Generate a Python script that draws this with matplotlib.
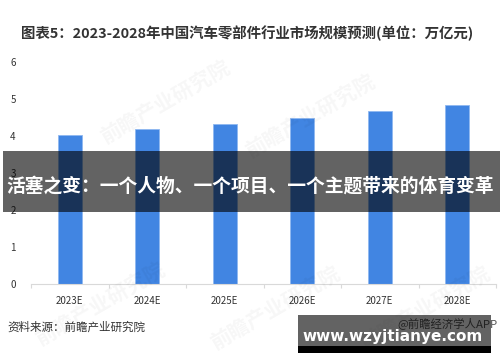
import matplotlib
matplotlib.use("Agg")
import matplotlib.pyplot as plt
from matplotlib.patches import Rectangle

plt.rcParams['font.family'] = ['Noto Sans CJK SC', 'DejaVu Sans']

# 数据
years = ['2023E', '2024E', '2025E', '2026E', '2027E', '2028E']
market_size = [4.02, 4.19, 4.33, 4.50, 4.67, 4.84]
y_ticks = [0, 1, 2, 3, 4, 5, 6]

title = '图表5：2023-2028年中国汽车零部件行业市场规模预测(单位：万亿元)'
source = '资料来源：前瞻产业研究院'
banner = '活塞之变：一个人物、一个项目、一个主题带来的体育变革'

W, H = 500, 362
fig = plt.figure(figsize=(W / 100, H / 100), dpi=100)
ax = fig.add_axes([31 / W, (H - 284) / H, 465 / W, 222 / H])

x = list(range(len(years)))
ax.bar(x, market_size, width=0.31, color='#4185e2', edgecolor='#8fb8f0', linewidth=0.6, zorder=2)

ax.set_xlim(-0.5, len(years) - 0.5)
ax.set_ylim(0, 6)
ax.set_yticks(y_ticks)
ax.set_xticks(x)
ax.set_xticklabels(years)
ax.set_xticks([i + 0.5 for i in range(-1, len(years))], minor=True)
ax.tick_params(axis='x', which='major', length=0, pad=9, labelsize=7, colors='#333333')
ax.tick_params(axis='x', which='minor', length=3, color='#d9d9d9', width=0.8)
ax.tick_params(axis='y', length=0, pad=11, labelsize=7, colors='#333333')
for s in ['top', 'right', 'left']:
    ax.spines[s].set_visible(False)
ax.spines['bottom'].set_color('#d9d9d9')
ax.spines['bottom'].set_linewidth(0.8)

# 水印
for wx, wy in [(0.33, 0.72), (0.62, 0.68), (0.2, 0.16), (0.55, 0.15), (0.85, 0.15)]:
    fig.text(wx, wy, '前瞻产业研究院', fontsize=15, fontweight='bold', color='#000000',
             alpha=0.035, rotation=30, ha='center', va='center')

fig.text(21 / W, 1 - 33 / H, title, fontsize=10.4, fontweight='bold', color='#333333',
         ha='left', va='center')
fig.text(7 / W, 1 - 327 / H, source, fontsize=8.3, color='#333333', ha='left', va='center')
fig.text(497 / W, 1 - 323 / H, '@前瞻经济学人APP', fontsize=8.2, color='#555555',
         ha='right', va='center')

# 遮罩横幅
fig.add_artist(Rectangle((3 / W, 1 - 212 / H), 497 / W, 61 / H, transform=fig.transFigure,
                         facecolor='black', alpha=0.61, edgecolor='none', zorder=5))
fig.text(250 / W, 1 - 186 / H, banner, fontsize=13.5, fontweight='bold', color='white',
         ha='center', va='center', zorder=6)

fig.add_artist(Rectangle((298 / W, 1 - 346 / H), 193 / W, 31 / H, transform=fig.transFigure,
                         facecolor='black', alpha=0.61, edgecolor='none', zorder=5))
fig.add_artist(Rectangle((298 / W, 1 - 353 / H), 193 / W, 7 / H, transform=fig.transFigure,
                         facecolor='black', edgecolor='none', zorder=5))
fig.text(393 / W, 1 - 336 / H, 'www.wzyjtianye.com', fontsize=11, fontweight='bold',
         color='white', ha='center', va='center', zorder=6, family='DejaVu Sans')

fig.savefig('out.png', dpi=100)
